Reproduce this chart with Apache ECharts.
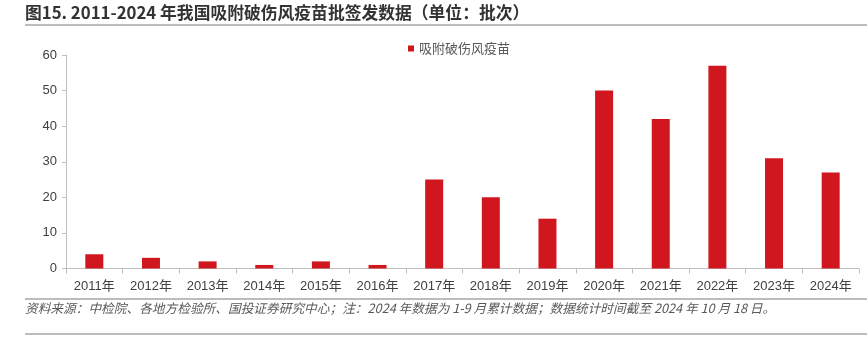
<!DOCTYPE html>
<html>
<head>
<meta charset="utf-8">
<script src="https://cdn.jsdelivr.net/npm/echarts@6/dist/echarts.min.js"></script>
<style>
html,body{margin:0;padding:0;background:#fff;}
#c{width:867px;height:340px;}
</style>
</head>
<body>
<div id="c"></div>
<script>
const categories = ['2011年','2012年','2013年','2014年','2015年','2016年','2017年','2018年','2019年','2020年','2021年','2022年','2023年','2024年'];
const seriesName = '吸附破伤风疫苗';
const values = [4, 3, 2, 1, 2, 1, 25, 20, 14, 50, 42, 57, 31, 27];
const yTicks = [0, 10, 20, 30, 40, 50, 60];
const titleText = '图15. 2011-2024 年我国吸附破伤风疫苗批签发数据（单位：批次）';
const sourceText = '资料来源：中检院、各地方检验所、国投证券研究中心；注：2024 年数据为 1-9 月累计数据；数据统计时间截至 2024 年 10 月 18 日。';

const chart = echarts.init(document.getElementById('c'), null, {renderer: 'canvas'});
const FONT = '"Noto Sans CJK SC", "Liberation Sans", sans-serif';
chart.setOption({
  animation: false,
  backgroundColor: '#fff',
  textStyle: {fontFamily: FONT},
  grid: {left: 66, right: 8, top: 55, bottom: 71.5, containLabel: false},
  legend: {
    data: [seriesName],
    left: 403, top: 37,
    icon: 'rect', itemWidth: 6, itemHeight: 6, itemGap: 5,
    textStyle: {fontSize: 13, color: '#595959', fontFamily: FONT}
  },
  xAxis: {
    type: 'category',
    data: categories,
    axisLine: {lineStyle: {color: '#bfbfbf', width: 1}},
    axisTick: {show: true, alignWithLabel: false, length: 5, lineStyle: {color: '#bfbfbf'}},
    axisLabel: {fontSize: 13, color: '#404040', margin: 11, interval: 0, fontFamily: '"Liberation Sans", "Noto Sans CJK SC", sans-serif'}
  },
  yAxis: {
    type: 'value',
    min: yTicks[0], max: yTicks[yTicks.length - 1], interval: 10,
    splitLine: {show: false},
    axisLine: {show: true, lineStyle: {color: '#bfbfbf', width: 1}},
    axisTick: {show: true, length: 4, lineStyle: {color: '#bfbfbf'}},
    axisLabel: {fontSize: 13, color: '#404040', margin: 9, fontFamily: '"Liberation Sans", sans-serif'}
  },
  series: [{
    name: seriesName,
    type: 'bar',
    data: values,
    barWidth: 18,
    itemStyle: {color: '#d0171f'}
  }],
  graphic: [
    {type: 'text', left: 25, top: 4, style: {text: titleText, fill: '#333333', font: 'bold 16.8px ' + FONT}},
    {type: 'line', shape: {x1: 25, y1: 25, x2: 867, y2: 25}, style: {stroke: '#a6a6a6', lineWidth: 1.5}},
    {type: 'line', shape: {x1: 25, y1: 299, x2: 867, y2: 299}, style: {stroke: '#a6a6a6', lineWidth: 1.5}},
    {type: 'text', left: 25, top: 302, style: {text: sourceText, fill: '#595959', font: 'italic 12.7px ' + FONT}},
    {type: 'line', shape: {x1: 25, y1: 334, x2: 867, y2: 334}, style: {stroke: '#a6a6a6', lineWidth: 1.5}}
  ]
});
</script>
</body>
</html>
